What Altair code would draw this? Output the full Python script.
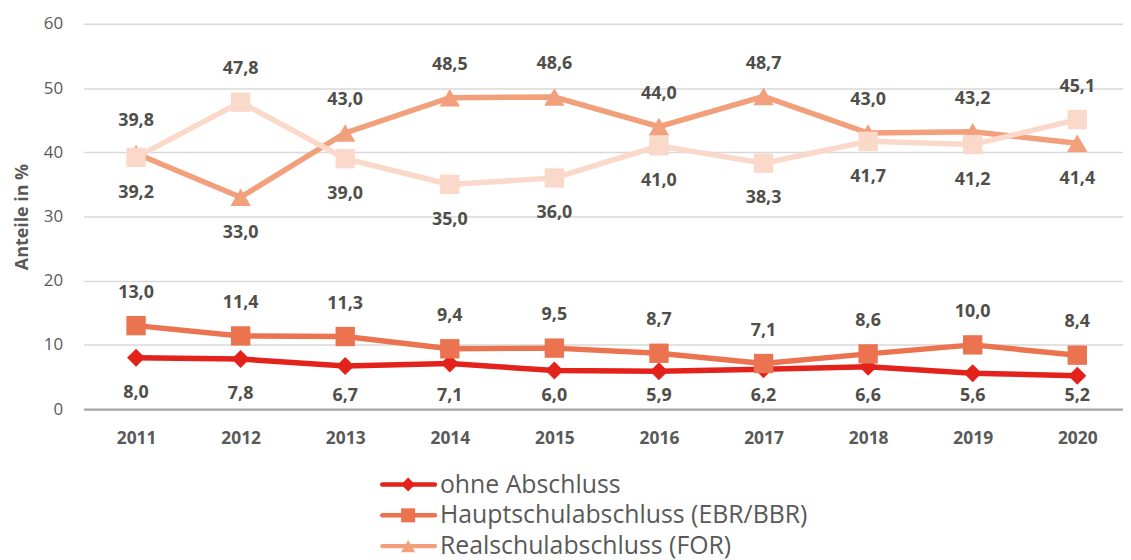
import altair as alt
import pandas as pd

years = ["2011", "2012", "2013", "2014", "2015", "2016", "2017", "2018", "2019", "2020"]
names = [
    "ohne Abschluss",
    "Hauptschulabschluss (EBR/BBR)",
    "Realschulabschluss (FOR)",
    "Fachhochschul-/Hochschulreife",
]
ohne = [8.0, 7.8, 6.7, 7.1, 6.0, 5.9, 6.2, 6.6, 5.6, 5.2]
haupt = [13.0, 11.4, 11.3, 9.4, 9.5, 8.7, 7.1, 8.6, 10.0, 8.4]
real = [39.8, 33.0, 43.0, 48.5, 48.6, 44.0, 48.7, 43.0, 43.2, 41.4]
hoch = [39.2, 47.8, 39.0, 35.0, 36.0, 41.0, 38.3, 41.7, 41.2, 45.1]

colors = ["#E3231B", "#EC7350", "#F2A07C", "#FAD9CA"]
shapes = ["diamond", "square", "triangle-up", "square"]
sizes = [330, 380, 420, 380]

series_vals = [ohne, haupt, real, hoch]
partner = [1, 0, 3, 2]

FONT = "Open Sans"
TXT = "#595959"
LBL = "#4f4f4a"

rows = []
for si, (name, vals) in enumerate(zip(names, series_vals)):
    other = series_vals[partner[si]]
    for yr, v, o in zip(years, vals, other):
        rows.append({"series": name, "idx": si, "year": yr, "v": v, "above": v >= o})
df = pd.DataFrame(rows)

x_enc = alt.X(
    "year:O",
    scale=alt.Scale(type="point", padding=0.47, align=0.535),
    axis=alt.Axis(
        title=None,
        labelFont=FONT,
        labelFontSize=17.5,
        labelFontWeight="bold",
        labelColor=TXT,
        labelPadding=21,
        ticks=False,
        domain=False,
        grid=False,
        labelAngle=0,
    ),
)
y_scale = alt.Scale(domain=[0, 60], nice=False, zero=True)
y_axis = alt.Axis(
    values=[0, 10, 20, 30, 40, 50, 60],
    title="Anteile in %",
    titleFont=FONT,
    titleFontSize=18,
    titleFontWeight="bold",
    titleColor=TXT,
    titlePadding=12,
    labelFont=FONT,
    labelFontSize=17,
    labelColor=TXT,
    labelPadding=21,
    ticks=False,
    domain=False,
    gridColor=alt.condition("datum.value == 0", alt.value("#a6a6a6"), alt.value("#d9d9d9")),
    gridWidth=alt.condition("datum.value == 0", alt.value(2.2), alt.value(1.5)),
)


def yv(field):
    return alt.Y(field, scale=y_scale, axis=y_axis, title="Anteile in %")


base = alt.Chart(df)

layers = []
for si, name in enumerate(names):
    sub = base.transform_filter(alt.datum.series == name)
    layers.append(
        sub.mark_line(color=colors[si], strokeWidth=5.5).encode(x=x_enc, y=yv("v:Q"))
    )
    layers.append(
        sub.mark_point(
            filled=True, opacity=1, color=colors[si], shape=shapes[si], size=sizes[si]
        ).encode(x=x_enc, y=yv("v:Q"))
    )

labels = base.transform_calculate(
    ly="datum.above ? datum.v + 5.1 : max(datum.v - 5.5, 2.1)",
    txt="replace(format(datum.v, '.1f'), '.', ',')",
).mark_text(
    font=FONT, fontSize=18, fontWeight="bold", color=LBL, baseline="middle", align="center"
).encode(
    x=x_enc,
    y=yv("ly:Q"),
    text="txt:N",
)
layers.append(labels)

main = alt.layer(*layers)

leg_df = pd.DataFrame({"name": names, "rank": [0, 1, 2, 3]})
leg_base = alt.Chart(leg_df)
leg_y = alt.Y("rank:O", scale=alt.Scale(type="point", range=[464, 557], padding=0), axis=None)
leg_color = alt.Color("name:N", scale=alt.Scale(domain=names, range=colors), legend=None)
leg_shape = alt.Shape("name:N", scale=alt.Scale(domain=names, range=shapes), legend=None)

leg_rule = leg_base.mark_rule(strokeWidth=4.5, strokeCap="round").encode(
    x=alt.value(301), x2=alt.value(354), y=leg_y, color=leg_color
)
leg_pt = leg_base.mark_point(filled=True, opacity=1, size=200).encode(
    x=alt.value(327), y=leg_y, color=leg_color, shape=leg_shape
)
leg_txt = leg_base.mark_text(
    font=FONT, fontSize=25, color=TXT, align="left", baseline="middle"
).encode(x=alt.value(359), y=leg_y, text="name:N")
legend = alt.layer(leg_rule, leg_pt, leg_txt)

chart = (
    alt.layer(main, legend)
    .resolve_scale(y="independent")
    .resolve_axis(y="independent")
    .properties(
        width=1047,
        height=388,
        autosize=alt.AutoSizeParams(type="none"),
        padding={"left": 76, "top": 14, "right": 0, "bottom": 150},
        background="white",
    )
    .configure_view(stroke=None, strokeWidth=0)
)

chart.save("out.html", embed_options={"renderer": "svg", "actions": False})
